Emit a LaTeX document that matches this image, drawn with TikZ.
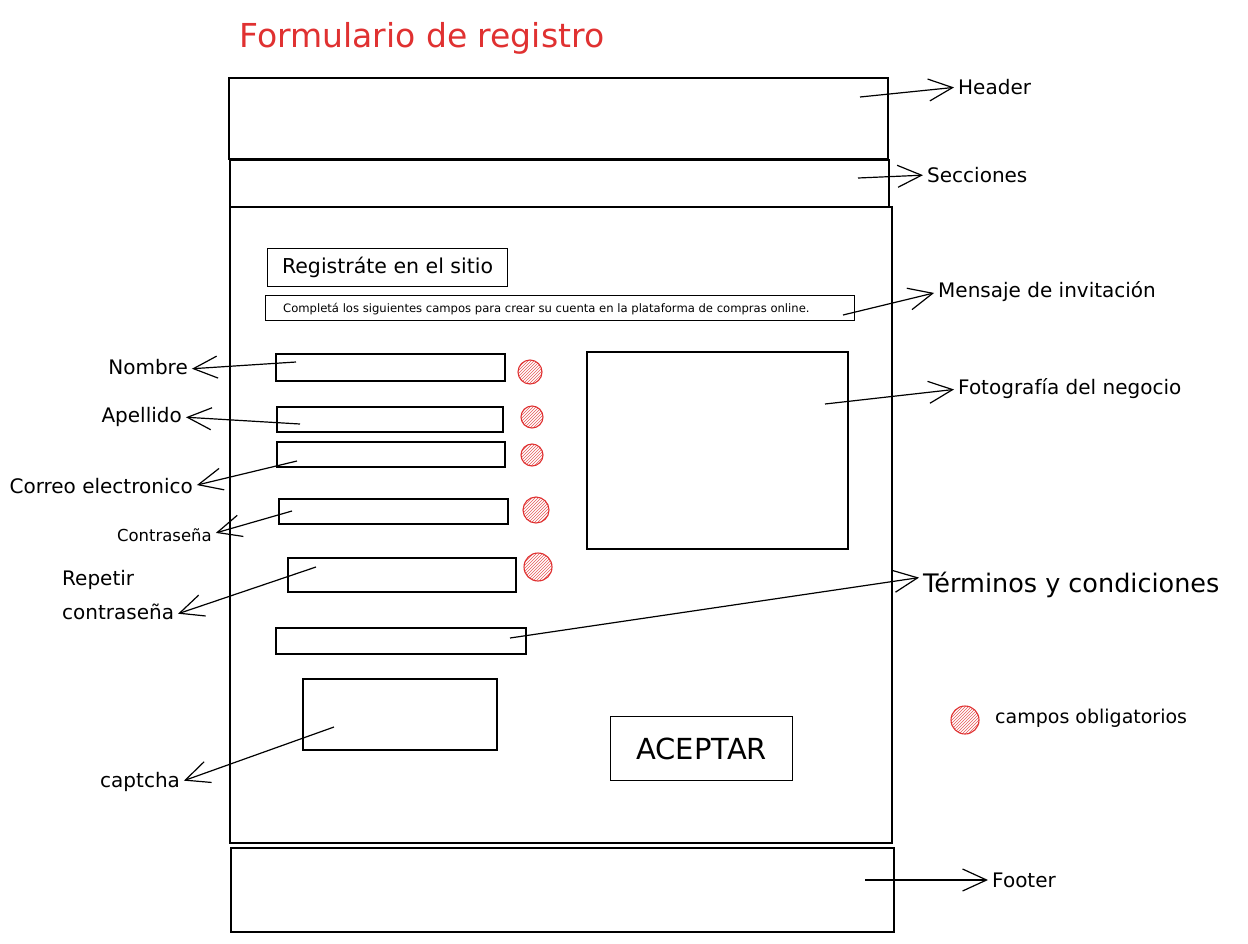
\documentclass[tikz,border=0pt]{standalone}
\usepackage{fontspec}
\setmainfont{DejaVu Sans}
\usetikzlibrary{arrows.meta,patterns}
\definecolor{exred}{RGB}{224,49,49}
\tikzset{
  box/.style={draw=black,line width=1.2pt},
  lbl/.style={inner sep=0pt,font=\fontsize{20}{22}\selectfont},
  arr/.style={draw=black,line width=1.2pt,-{Straight Barb[length=24pt,width=22pt,line width=1.2pt]},shorten >=4pt},
  req/.style={draw=exred,line width=1.1pt,pattern=north east lines,pattern color=exred!80}
}
\begin{document}
\begin{tikzpicture}[x=1pt,y=-1pt]
\useasboundingbox (0,0) rectangle (1248,943);
\fill[white] (0,0) rectangle (1248,943);
% title
\node[anchor=west,inner sep=0pt,text=exred,font=\fontsize{33}{38}\selectfont] (title) at (239,38) {Formulario de registro};
% frames
\draw[box] (229,78) rectangle (888,159);
\draw[box] (230,160) rectangle (889,207);
\draw[box] (230,207) rectangle (892,843);
\draw[box] (231,848) rectangle (894,932);
% top boxes
\node[box,anchor=north west,minimum width=240pt,minimum height=38pt,inner sep=0pt,font=\fontsize{20.5}{23}\selectfont] (reg) at (267,248) {Registráte en el sitio};
\node[box,anchor=north west,minimum width=589pt,minimum height=25pt,inner sep=0pt] (msg) at (265,295) {};
\node[inner sep=0pt,anchor=west,font=\fontsize{11.6}{13}\selectfont] (msgt) at (283,309) {Completá los siguientes campos para crear su cuenta en la plataforma de compras online.};
% fields
\draw[box] (276,354) rectangle (505,381);
\draw[box] (277,407) rectangle (503,432);
\draw[box] (277,442) rectangle (505,467);
\draw[box] (279,499) rectangle (508,524);
\draw[box] (288,558) rectangle (516,592);
\draw[box] (276,628) rectangle (526,654);
\draw[box] (587,352) rectangle (848,549);
\draw[box] (303,679) rectangle (497,750);
\node[box,anchor=north west,minimum width=182pt,minimum height=64pt,inner sep=0pt,font=\fontsize{29}{31}\selectfont] (acc) at (610,716) {ACEPTAR};
% required circles
\draw[req] (530,372) circle (12);
\draw[req] (532,417) circle (11);
\draw[req] (532,455) circle (11);
\draw[req] (536,510) circle (13);
\draw[req] (538,567) circle (14);
\draw[req] (965,720) circle (14);
% right labels
\node[lbl,anchor=west] (hdr) at (958,87) {Header};
\node[lbl,anchor=west] (sec) at (927,175) {Secciones};
\node[lbl,anchor=west] (men) at (938,292) {Mensaje de invitación};
\node[lbl,anchor=west] (foto) at (958,389) {Fotografía del negocio};
\node[lbl,anchor=west,font=\fontsize{25.5}{28}\selectfont] (ter) at (923,585) {Términos y condiciones};
\node[lbl,anchor=west,font=\fontsize{19}{21}\selectfont] (obl) at (995,718) {campos obligatorios};
\node[lbl,anchor=west] (foot) at (992,880) {Footer};
% left labels
\node[lbl,anchor=east] (nom) at (188,367) {Nombre};
\node[lbl,anchor=east] (ape) at (182,417) {Apellido};
\node[lbl,anchor=east] (cor) at (193,486) {Correo electronico};
\node[lbl,anchor=east,font=\fontsize{16.5}{18}\selectfont] (con) at (212,535) {Contraseña};
\node[lbl,anchor=west] (rep1) at (62,580) {Repetir};
\node[lbl,anchor=west] (rep) at (62,612) {contraseña};
\node[lbl,anchor=west] (cap) at (100,782) {captcha};
% arrow starts
\coordinate (sHdr) at (860,97);
\coordinate (sSec) at (858,178);
\coordinate (sMen) at (843,315);
\coordinate (sFoto) at (825,404);
\coordinate (sTer) at (510,638);
\coordinate (sFoot) at (865,880);
\coordinate (sNom) at (296,362);
\coordinate (sApe) at (300,424);
\coordinate (sCor) at (297,461);
\coordinate (sCon) at (292,511);
\coordinate (sRep) at (316,567);
\coordinate (sCap) at (334,727);
% arrows
\draw[arr] (sHdr) -- (hdr.west);
\draw[arr] (sSec) -- (sec.west);
\draw[arr] (sMen) -- (men.west);
\draw[arr] (sFoto) -- (foto.west);
\draw[arr] (sTer) -- ([yshift=8pt]ter.west);
\draw[arr] (sFoot) -- (foot.west);
\draw[arr] (sNom) -- ([yshift=-2pt]nom.east);
\draw[arr] (sApe) -- (ape.east);
\draw[arr] (sCor) -- (cor.east);
\draw[arr] (sCon) -- ([yshift=1pt]con.east);
\draw[arr] (sRep) -- ([yshift=-3pt]rep.east);
\draw[arr] (sCap) -- (cap.east);
\end{tikzpicture}
\end{document}
